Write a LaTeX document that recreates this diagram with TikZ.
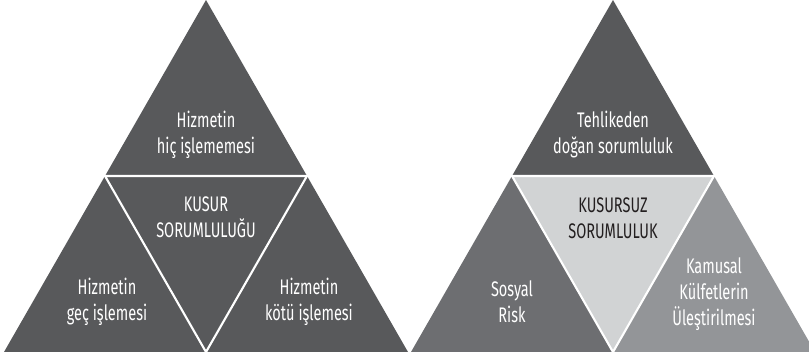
\documentclass[tikz,border=0pt]{standalone}
\usepackage{fontspec}
\setmainfont{Fira Sans}[FakeStretch=0.69]
\usepackage{xcolor}
\usepackage{tikz}
\usetikzlibrary{calc,positioning}

\definecolor{darkgrey}{HTML}{58595B}
\definecolor{midgrey}{HTML}{6D6E71}
\definecolor{lightgrey}{HTML}{939598}
\definecolor{palegrey}{HTML}{D1D3D4}
\definecolor{inkgrey}{HTML}{231F20}

\tikzset{
  lbl/.style={align=center, text=white, font=\fontsize{12}{14.8}\selectfont},
  sep/.style={white, line width=1.2pt, line join=miter}
}

\begin{document}
\begin{tikzpicture}[x=0.02cm, y=-0.02cm]
    \useasboundingbox (0,0) rectangle (809,357);
    \clip (0,0) rectangle (809,357);

    % Left triangle (kusur sorumlulugu)
    \coordinate (LA) at (206,0);
    \coordinate (LL) at (4,352);
    \coordinate (LR) at (408,352);
    \coordinate (LmL) at ($(LA)!0.5!(LL)$);
    \coordinate (LmR) at ($(LA)!0.5!(LR)$);
    \coordinate (LmB) at ($(LL)!0.5!(LR)$);
    \fill[darkgrey] (LA) -- (LL) -- (LR) -- cycle;
    \draw[sep] (LmL) -- (LmR) -- (LmB) -- cycle;

    \node[lbl] (hic) at (206,135) {Hizmetin\\hiç işlememesi};
    \node[lbl] (kusur) at (206,217) {KUSUR\\SORUMLULUĞU};
    \node[lbl] (gec) at (107,302) {Hizmetin\\geç işlemesi};
    \node[lbl] (kotu) at (309,302) {Hizmetin\\kötü işlemesi};

    % Right triangle (kusursuz sorumluluk)
    \coordinate (RA) at (613,0);
    \coordinate (RL) at (411,352);
    \coordinate (RR) at (815,352);
    \coordinate (RmL) at ($(RA)!0.5!(RL)$);
    \coordinate (RmR) at ($(RA)!0.5!(RR)$);
    \coordinate (RmB) at ($(RL)!0.5!(RR)$);
    \fill[darkgrey] (RA) -- (RmL) -- (RmR) -- cycle;
    \fill[midgrey] (RmL) -- (RL) -- (RmB) -- cycle;
    \fill[palegrey] (RmL) -- (RmR) -- (RmB) -- cycle;
    \fill[lightgrey] (RmR) -- (RmB) -- (RR) -- cycle;
    \draw[sep] (RmL) -- (RmR) -- (RmB) -- cycle;

    \node[lbl] (tehlike) at (613,135) {Tehlikeden\\doğan sorumluluk};
    \node[lbl, text=inkgrey] (kusursuz) at (613,218) {KUSURSUZ\\SORUMLULUK};
    \node[lbl] (sosyal) at (512,302) {Sosyal\\Risk};
    \node[lbl] (kamusal) at (714,294) {Kamusal\\Külfetlerin\\Üleştirilmesi};
\end{tikzpicture}
\end{document}
